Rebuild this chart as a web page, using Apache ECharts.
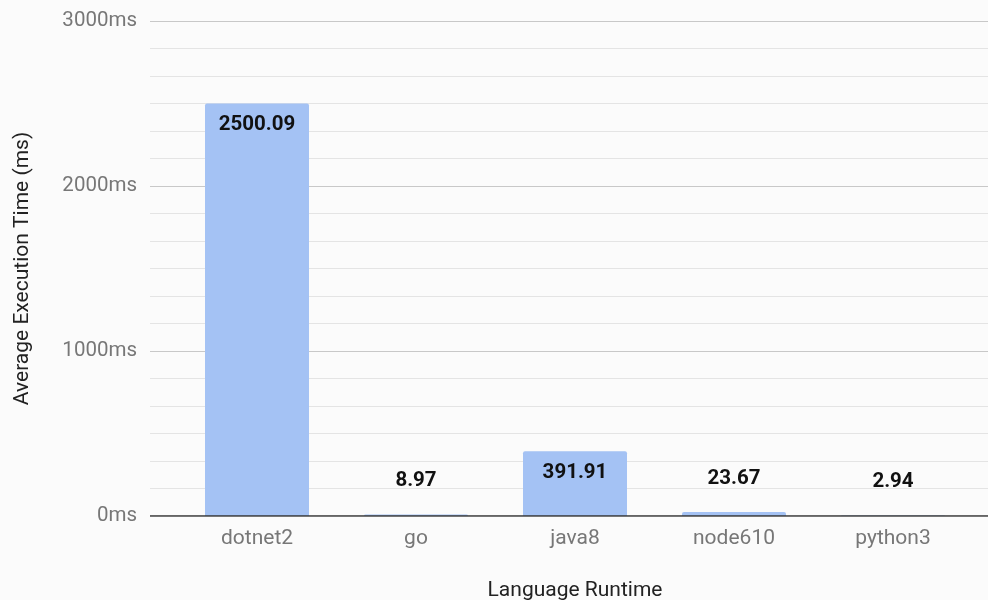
<!DOCTYPE html>
<html><head><meta charset="utf-8">
<script src="https://cdn.jsdelivr.net/npm/echarts@6/dist/echarts.min.js"></script>
<style>html,body{margin:0;padding:0;background:#fbfbfb}#c{width:988px;height:600px}</style>
</head><body><div id="c"></div>
<script>
const categories = ['dotnet2', 'go', 'java8', 'node610', 'python3'];
const avgExecMs = [2500.09, 8.97, 391.91, 23.67, 2.94];
const yTicks = [0, 1000, 2000, 3000];

const FONT = 'Roboto';
const chart = echarts.init(document.getElementById('c'), null, {renderer: 'canvas'});

const barData = avgExecMs.map(v => ({
  value: v,
  label: v < 100
    ? {position: 'top', distance: 23}
    : {position: 'insideTop', distance: 11}
}));

chart.setOption({
  backgroundColor: '#fbfbfb',
  animation: false,
  grid: [
    {left: 150, right: 0, top: 21, bottom: 84, outerBoundsMode: 'none', containLabel: false},
    {left: 177.5, right: 15.5, top: 21, bottom: 84, outerBoundsMode: 'none', containLabel: false}
  ],
  xAxis: [
    {gridIndex: 0, type: 'value', min: 0, max: 1, show: false},
    {
      gridIndex: 1, type: 'category', data: categories,
      axisLine: {show: false}, axisTick: {show: false},
      axisLabel: {color: '#777777', fontFamily: FONT, fontSize: 21, margin: 12},
      name: 'Language Runtime', nameLocation: 'middle', nameGap: 64,
      nameTextStyle: {color: '#222', fontFamily: FONT, fontSize: 21}
    }
  ],
  yAxis: [
    {
      gridIndex: 0, type: 'value', min: yTicks[0], max: yTicks[yTicks.length - 1], interval: 1000,
      axisLine: {show: false}, axisTick: {show: false},
      axisLabel: {color: '#777777', fontFamily: FONT, fontSize: 20.5, margin: 13,
        formatter: v => v + 'ms'},
      splitLine: {show: true, lineStyle: {color: '#c8c8c8', width: 1}},
      minorTick: {show: false, splitNumber: 6},
      minorSplitLine: {show: true, lineStyle: {color: '#e4e4e4', width: 1}},
      name: 'Average Execution Time (ms)', nameLocation: 'middle', nameGap: 117, nameRotate: 90,
      nameTextStyle: {color: '#222', fontFamily: FONT, fontSize: 21}
    },
    {gridIndex: 1, type: 'value', min: yTicks[0], max: yTicks[yTicks.length - 1], show: false}
  ],
  series: [
    {
      type: 'bar', xAxisIndex: 1, yAxisIndex: 1, data: barData,
      barWidth: 104,
      itemStyle: {color: '#a4c2f4', borderRadius: [2, 2, 0, 0]},
      label: {show: true, color: '#111', fontFamily: FONT, fontWeight: 'bold', fontSize: 20.5},
      z: 2
    },
    {
      type: 'line', xAxisIndex: 0, yAxisIndex: 0, data: [[0, 0], [1, 0]],
      symbol: 'none', silent: true,
      lineStyle: {color: '#333', width: 1.5}, z: 3
    }
  ]
});
</script></body></html>
